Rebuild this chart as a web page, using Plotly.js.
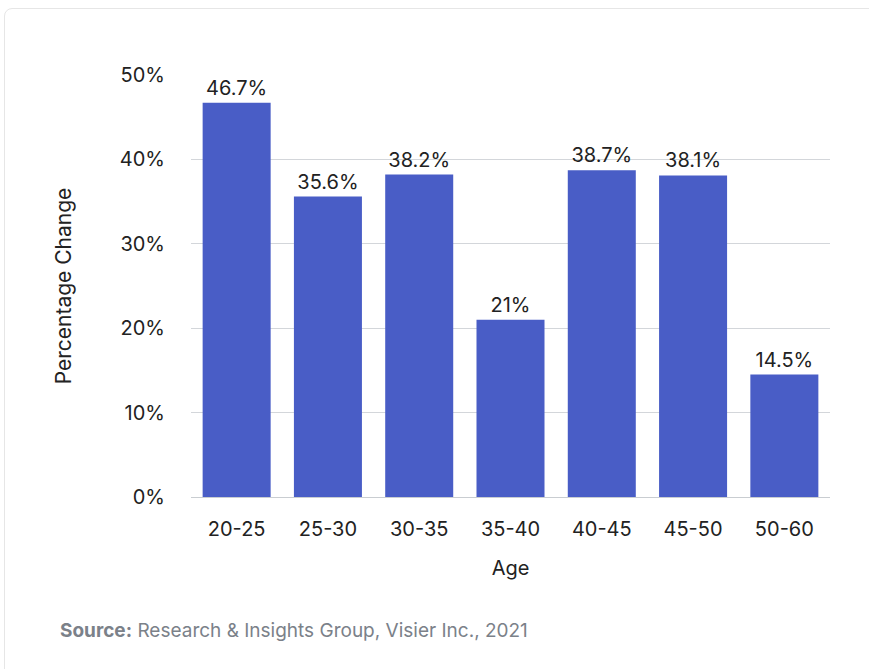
<!DOCTYPE html>
<html>
<head>
<meta charset="utf-8">
<script src="https://cdn.plot.ly/plotly-3.0.1.min.js"></script>
<style>
  html, body { margin: 0; padding: 0; background: #ffffff; }
  #card { position: absolute; left: 4px; top: 8px; width: 900px; height: 700px;
          border: 1px solid #e6e6e6; border-radius: 8px; box-sizing: border-box; }
  #chart { position: absolute; left: 0; top: 0; width: 869px; height: 669px; }
</style>
</head>
<body>
<div id="card"></div>
<div id="chart"></div>
<script>
const categories = ["20-25", "25-30", "30-35", "35-40", "40-45", "45-50", "50-60"];
const values = [46.7, 35.6, 38.2, 21, 38.7, 38.1, 14.5];
const labels = ["46.7%", "35.6%", "38.2%", "21%", "38.7%", "38.1%", "14.5%"];
const yTickVals = [0, 10, 20, 30, 40, 50];
const yTickText = ["0%", "10%", "20%", "30%", "40%", "50%"];

const FONT = "Inter, sans-serif";
const INK = "#222222";

const trace = {
  type: "bar",
  x: categories,
  y: values,
  text: labels,
  textposition: "outside",
  cliponaxis: false,
  textfont: { family: FONT, size: 20, color: INK },
  marker: { color: "#495dc6" },
  hoverinfo: "x+y"
};

const layout = {
  width: 869,
  height: 669,
  margin: { l: 191, r: 39, t: 75, b: 172 },
  paper_bgcolor: "rgba(0,0,0,0)",
  plot_bgcolor: "rgba(0,0,0,0)",
  bargap: 0.255,
  showlegend: false,
  font: { family: FONT, size: 20, color: INK },
  xaxis: {
    type: "category",
    showgrid: false,
    showline: false,
    ticks: "",
    ticklabelstandoff: 18,
    tickfont: { family: FONT, size: 20, color: INK },
    title: { text: "Age", font: { family: FONT, size: 20, color: INK }, standoff: 20 }
  },
  yaxis: {
    range: [0, 50],
    tickvals: yTickVals,
    ticktext: yTickText,
    showgrid: true,
    gridcolor: "#d3d6da",
    gridwidth: 1,
    zeroline: true,
    zerolinecolor: "#c9cdd1",
    zerolinewidth: 1,
    showline: false,
    ticks: "",
    ticklabelstandoff: 25,
    tickfont: { family: FONT, size: 20, color: INK },
    title: { text: "Percentage Change", font: { family: FONT, size: 21, color: INK }, standoff: 42 }
  },
  annotations: [{
    xref: "paper", yref: "paper",
    x: -0.208, y: -0.3175,
    xanchor: "left", yanchor: "middle",
    showarrow: false,
    text: "<b>Source:</b> Research &amp; Insights Group, Visier Inc., 2021",
    font: { family: FONT, size: 19, color: "#7b8189" }
  }]
};

Plotly.newPlot("chart", [trace], layout, { displayModeBar: false, staticPlot: true });
</script>
</body>
</html>
